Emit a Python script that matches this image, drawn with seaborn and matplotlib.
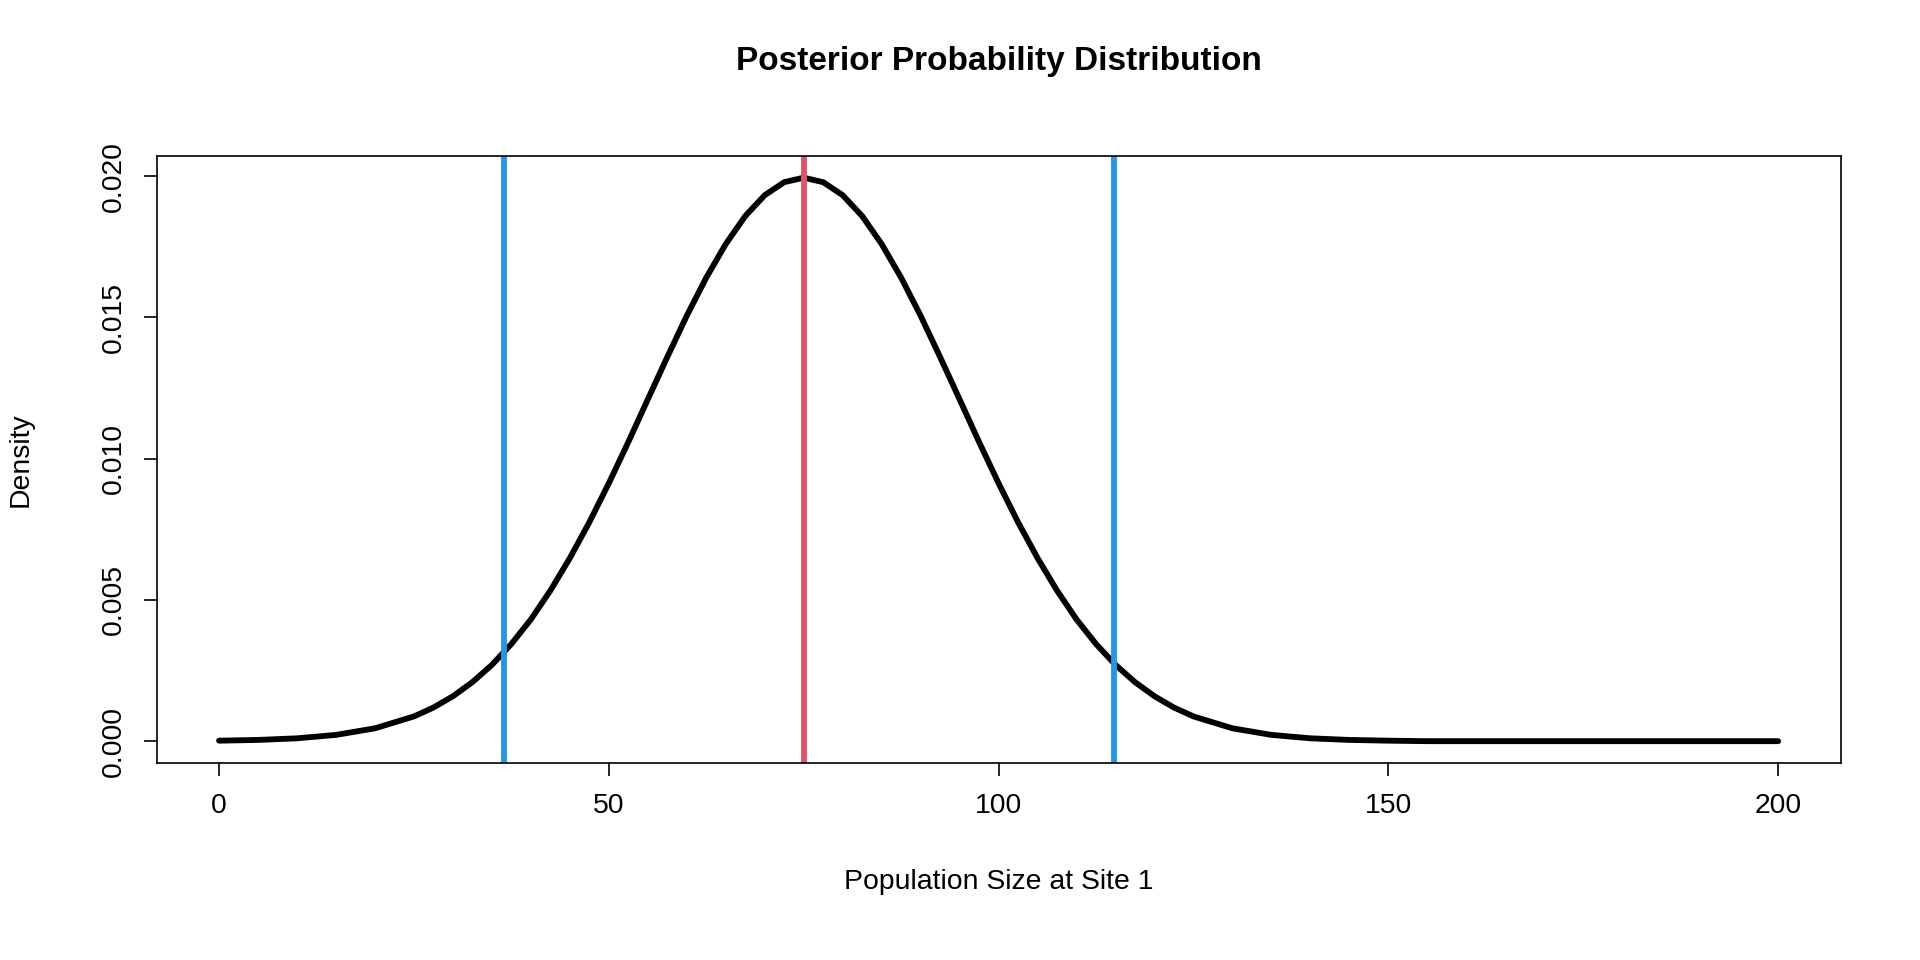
import numpy as np
import pandas as pd
import seaborn as sns
import matplotlib.pyplot as plt

sns.set_style("white")
plt.rcParams['font.family'] = ['Liberation Sans', 'DejaVu Sans']
plt.rcParams['text.color'] = 'black'
plt.rcParams['axes.labelcolor'] = 'black'

# densidad posterior
pop = list(range(0, 205, 5))
dens = [0.0000176, 0.0000437, 0.000101, 0.000222, 0.000455, 0.000876, 0.00159, 0.00270,
        0.00431, 0.00648, 0.00913, 0.01210, 0.01506, 0.01760, 0.01933, 0.01995,
        0.01933, 0.01760, 0.01506, 0.01210, 0.00913, 0.00648, 0.00431, 0.00270,
        0.00159, 0.000876, 0.000455, 0.000222, 0.000101, 0.0000437, 0.0000176,
        0.0, 0.0, 0.0, 0.0, 0.0, 0.0, 0.0, 0.0, 0.0, 0.0]
# puntos intermedios
pop_mid = [27.5, 32.5, 37.5, 42.5, 47.5, 52.5, 57.5, 62.5, 67.5, 72.5,
           77.5, 82.5, 87.5, 92.5, 97.5, 102.5, 107.5, 112.5, 117.5, 122.5]
dens_mid = [0.00119, 0.00209, 0.00344, 0.00533, 0.00775, 0.01059, 0.01360, 0.01641, 0.01859, 0.01979,
            0.01979, 0.01859, 0.01641, 0.01360, 0.01059, 0.00775, 0.00533, 0.00344, 0.00209, 0.00119]
df = pd.DataFrame({'pop': pop + pop_mid, 'dens': dens + dens_mid}).sort_values('pop')

fig = plt.figure(figsize=(16, 8), dpi=120)
ax = fig.add_axes([0.0816, 0.205, 0.877, 0.632])
sns.lineplot(data=df, x='pop', y='dens', color='black', linewidth=3.5, ax=ax)
ax.axvline(36.5, color='#2297E6', linewidth=3.5)  # límite inferior
ax.axvline(75, color='#DF536B', linewidth=3.5)  # media
ax.axvline(114.8, color='#2297E6', linewidth=3.5)  # límite superior

ax.set_xlim(-8, 208)
ax.set_ylim(-0.00078, 0.0207)
ax.set_xticks([0, 50, 100, 150, 200])
ax.set_yticks([0.000, 0.005, 0.010, 0.015, 0.020])
ax.set_yticklabels(['0.000', '0.005', '0.010', '0.015', '0.020'], rotation=90, va='center')
ax.tick_params(axis='both', labelsize=17, length=8, width=1, pad=10, direction='out', colors='black', bottom=True, left=True)
for s in ax.spines.values():
    s.set_color('black')
    s.set_linewidth(1)
ax.set_xlabel("Population Size at Site 1", fontsize=17, labelpad=30)
ax.set_ylabel("Density", fontsize=17, labelpad=40)
ax.set_title("Posterior Probability Distribution", fontsize=20, fontweight='bold', pad=52)

plt.savefig('out.png', dpi=120)
plt.close()
